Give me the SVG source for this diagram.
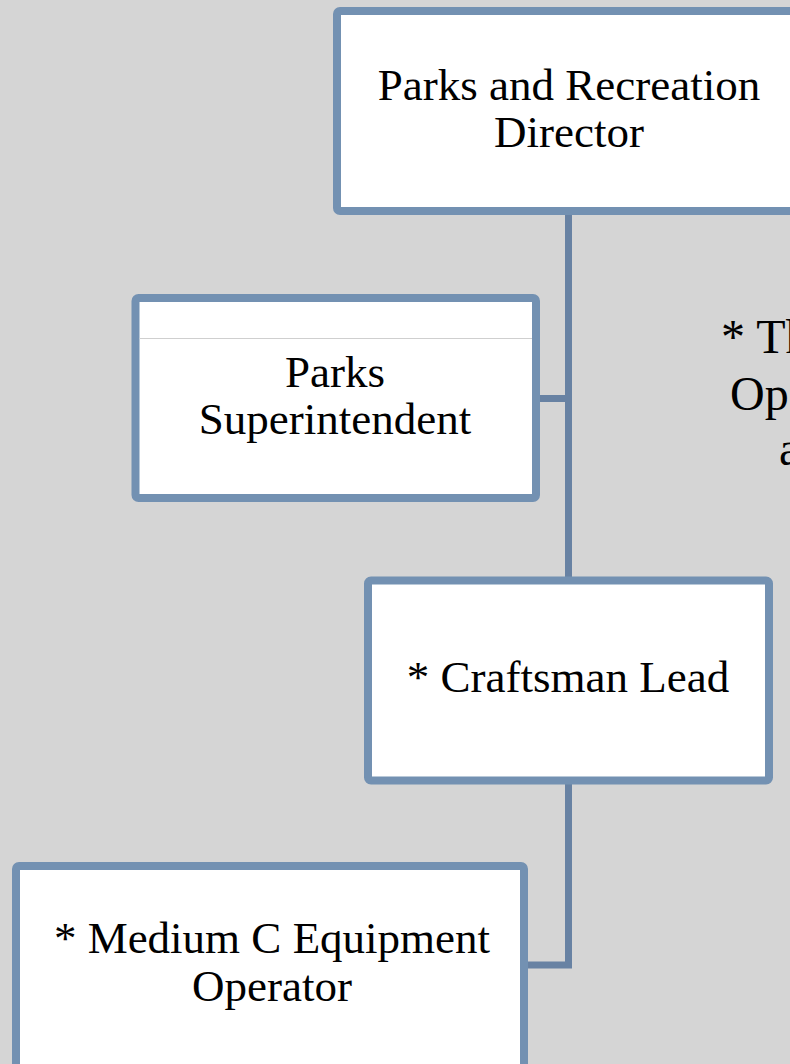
<svg xmlns="http://www.w3.org/2000/svg" width="790" height="1064" viewBox="0 0 790 1064">
<style>
.box{fill:#ffffff;stroke:#7391b2;stroke-width:8;}
.conn{fill:none;stroke:#6882a3;stroke-width:7;}
.lbl{font-family:"Liberation Serif","Times New Roman",serif;font-size:45px;fill:#000;text-anchor:middle;}
.note{font-family:"Liberation Serif","Times New Roman",serif;font-size:48px;fill:#000;}
</style>
<rect x="0" y="0" width="790" height="1064" fill="#d5d5d5"/>
<g id="connectors">
<path class="conn" d="M568.5,215 V580"/>
<path class="conn" d="M540,398.5 H568.5"/>
<path class="conn" d="M568.5,784 V965 H528"/>
</g>
<g id="director">
<rect class="box" x="337" y="11" width="500" height="200" rx="3"/>
<text class="lbl" x="569" y="100">Parks and Recreation</text>
<text class="lbl" x="569" y="147">Director</text>
</g>
<g id="superintendent">
<rect class="box" x="135.5" y="298" width="400.5" height="200" rx="3"/>
<line x1="139.5" y1="338.5" x2="532" y2="338.5" stroke="#cfcfcf" stroke-width="1"/>
<text class="lbl" x="335" y="387">Parks</text>
<text class="lbl" x="335" y="434">Superintendent</text>
</g>
<g id="craftsman">
<rect class="box" x="368" y="580.5" width="401" height="200" rx="3"/>
<text class="lbl" x="568" y="692">* Craftsman Lead</text>
</g>
<g id="operator">
<rect class="box" x="16" y="866" width="508" height="260" rx="3"/>
<text class="lbl" x="272" y="953">* Medium C Equipment</text>
<text class="lbl" x="272" y="1001">Operator</text>
</g>
<g id="note">
<text class="note" x="721" y="353">* Th</text>
<text class="note" x="730" y="410">Op</text>
<text class="note" x="779" y="465">a</text>
</g>
</svg>
